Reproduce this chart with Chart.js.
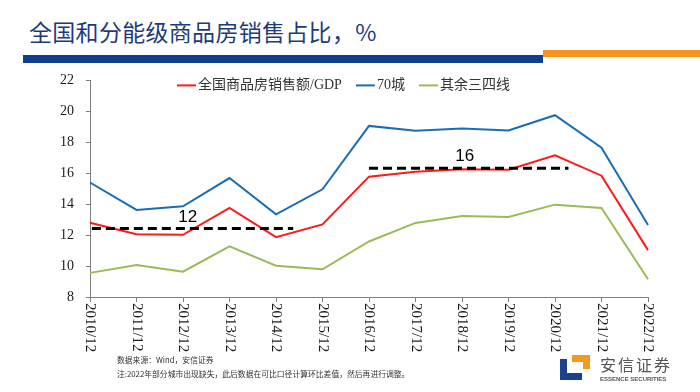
<!DOCTYPE html>
<html>
<head>
<meta charset="utf-8">
<script src="https://cdn.jsdelivr.net/npm/chart.js@4.4.1/dist/chart.umd.min.js"></script>
<style>
  html, body { margin: 0; padding: 0; background: #fff; }
  body { width: 700px; height: 392px; position: relative; overflow: hidden;
         font-family: "Noto Sans CJK SC", "Noto Sans", sans-serif; }
  .title { position: absolute; left: 29px; top: 14px; font-size: 23px; color: #1d3b7b; letter-spacing: 0.3px; }
  .bar-blue { position: absolute; left: 23px; top: 55px; width: 520px; height: 8px; background: #0d3f8a; }
  .bar-orange { position: absolute; left: 543px; top: 50px; width: 157px; height: 7px; background: #f7941d; }
  #wrap { position: absolute; left: 0; top: 60px; width: 700px; height: 300px; }
  .note { position: absolute; left: 117px; font-size: 7.8px; color: #333; white-space: nowrap; }
  .logo-txt { position: absolute; left: 600px; top: 352px; font-size: 16px; color: #555; letter-spacing: 2px; }
  .logo-en { position: absolute; left: 600px; top: 376px; font-size: 6px; color: #555; font-family: "Liberation Sans", sans-serif; font-weight: bold; }
</style>
</head>
<body>
<div class="title">全国和分能级商品房销售占比，%</div>
<div class="bar-blue"></div>
<div class="bar-orange"></div>
<div id="wrap"><canvas id="chart"></canvas></div>
<div class="note" style="top:354px">数据来源：Wind，安信证券</div>
<div class="note" style="top:368px">注:2022年部分城市出现缺失，此后数据在可比口径计算环比差值，然后再进行调整。</div>
<svg style="position:absolute;left:560px;top:355px" width="34" height="26">
  <path d="M0 4 H7 V18 H22 V25 H0 Z" fill="#1d3f8f"/>
  <path d="M12 0 H30 V14 H23 V7 H12 Z" fill="#f39a1e"/>
</svg>
<div class="logo-txt">安信证券</div>
<div class="logo-en">ESSENCE SECURITIES</div>

<script>
'use strict';

/* ── Data ─────────────────────────────────────────────────────────── */
const years = ['2010/12', '2011/12', '2012/12', '2013/12', '2014/12', '2015/12', '2016/12',
               '2017/12', '2018/12', '2019/12', '2020/12', '2021/12', '2022/12'];

const nationalShare = [12.8, 12.06, 12.02, 13.76, 11.87, 12.69, 15.78, 16.1, 16.26, 16.22, 17.16, 15.84, 11.03];
const city70Share   = [15.4, 13.63, 13.86, 15.69, 13.34, 14.96, 19.06, 18.74, 18.89, 18.76, 19.75, 17.65, 12.65];
const tier34Share   = [9.56, 10.06, 9.64, 11.28, 10.02, 9.79, 11.59, 12.79, 13.23, 13.17, 13.97, 13.76, 9.15];

// average reference lines: [start index, end index, level]
const avgEarly = [0.04, 4.37, 12.43];
const avgLate  = [6.0, 10.29, 16.32];
const avgLabels = [
  { text: '12', x: 2.1, y: 13.17 },
  { text: '16', x: 8.06, y: 17.08 },
];

const yTicks = { min: 8, max: 22, step: 2 };

/* ── Styles ───────────────────────────────────────────────────────── */
const C = {
  red:   '#ff1a1a',
  blue:  '#1a6db5',
  green: '#9bbb59',
  axis:  '#7f7f7f',
  text:  '#1a1a1a',
};
const SERIF = '"Liberation Serif", "Noto Sans CJK SC", serif';

const seriesDefs = [
  { label: '全国商品房销售额/GDP', data: nationalShare, color: C.red },
  { label: '70城',               data: city70Share,   color: C.blue },
  { label: '其余三四线',          data: tier34Share,   color: C.green },
];

function dashSet(seg) {
  return {
    label: '_avg',
    xAxisID: 'xd',
    data: [{ x: seg[0], y: seg[2] }, { x: seg[1], y: seg[2] }],
    borderColor: '#000',
    borderWidth: 3,
    borderDash: [9, 5],
    pointRadius: 0,
    fill: false,
    order: 0,
  };
}

/* ── Plugin: rotated x labels, legend, average labels ─────────────── */
const decor = {
  id: 'decor',
  afterDraw(chart) {
    const { ctx, chartArea, scales } = chart;
    const x = scales.x, xd = scales.xd, y = scales.y;

    // x tick labels, rotated clockwise
    ctx.save();
    ctx.fillStyle = C.text;
    ctx.font = '15px ' + SERIF;
    ctx.textAlign = 'left';
    ctx.textBaseline = 'middle';
    years.forEach((lab, i) => {
      ctx.save();
      ctx.translate(x.getPixelForValue(i), chartArea.bottom + 6);
      ctx.rotate(Math.PI / 2);
      ctx.fillText(lab, 0, 0);
      ctx.restore();
    });
    ctx.restore();

    // legend
    ctx.save();
    ctx.font = '14px ' + SERIF;
    ctx.textBaseline = 'middle';
    let lx = 177;
    const ly = chartArea.top + 5;
    seriesDefs.forEach(s => {
      ctx.strokeStyle = s.color;
      ctx.lineWidth = 2;
      ctx.beginPath();
      ctx.moveTo(lx, ly);
      ctx.lineTo(lx + 19, ly);
      ctx.stroke();
      lx += 21;
      ctx.fillStyle = '#333';
      ctx.fillText(s.label, lx, ly);
      lx += ctx.measureText(s.label).width + 14;
    });
    ctx.restore();

    // average labels
    ctx.save();
    ctx.fillStyle = '#000';
    ctx.font = '17px "Liberation Sans", Arial, sans-serif';
    ctx.textAlign = 'center';
    ctx.textBaseline = 'middle';
    avgLabels.forEach(a => ctx.fillText(a.text, xd.getPixelForValue(a.x), y.getPixelForValue(a.y)));
    ctx.restore();
  },
};

/* ── Chart ────────────────────────────────────────────────────────── */
new Chart(document.getElementById('chart'), {
  type: 'line',
  data: {
    labels: years,
    datasets: [
      ...seriesDefs.map(s => ({
        label: s.label,
        data: s.data,
        borderColor: s.color,
        backgroundColor: s.color,
        borderWidth: 2,
        pointRadius: 0,
        tension: 0,
        fill: false,
        order: 1,
      })),
      dashSet(avgEarly),
      dashSet(avgLate),
    ],
  },
  options: {
    responsive: true,
    maintainAspectRatio: false,
    animation: false,
    layout: { padding: { left: 40, right: 52, top: 15, bottom: 0 } },
    plugins: { legend: { display: false }, tooltip: { enabled: false } },
    scales: {
      x: {
        type: 'category',
        offset: false,
        afterFit: s => { s.height = 63; },
        grid: { display: true, drawOnChartArea: false, tickLength: 5, color: C.axis },
        border: { color: C.axis, width: 1 },
        ticks: { display: false },
      },
      xd: {
        type: 'linear',
        display: false,
        min: 0,
        max: years.length - 1,
      },
      y: {
        min: yTicks.min,
        max: yTicks.max,
        afterFit: s => { s.width = 50; },
        grid: { display: true, drawOnChartArea: false, tickLength: 4, color: C.axis },
        border: { color: C.axis, width: 1 },
        ticks: {
          stepSize: yTicks.step,
          padding: 12,
          color: C.text,
          font: { family: SERIF, size: 14 },
        },
      },
    },
  },
  plugins: [decor],
});
</script>
</body>
</html>
